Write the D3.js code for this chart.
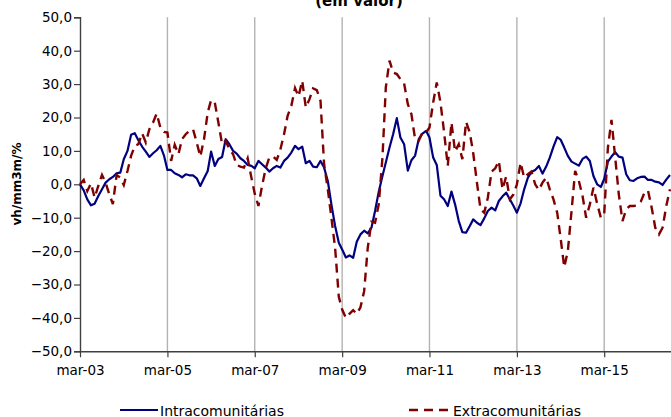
<!DOCTYPE html>
<html>
<head>
<meta charset="utf-8">
<script src="https://cdn.jsdelivr.net/npm/d3@7"></script>
<style>
  html, body { margin: 0; padding: 0; background: #fff; }
  svg { display: block; }
  text { font-family: "DejaVu Sans", Verdana, sans-serif; fill: #000; }
</style>
</head>
<body>
<svg id="chart" width="671" height="417"></svg>
<script>
// ---- data ----
const startYear = 2003, startMonth = 2; // March 2003, monthly series
const intra = [
  0.0,-1.8,-4.5,-6.3,-5.8,-3.5,-1.5,0.5,1.5,2.2,3.3,3.5,7.5,10.0,14.8,15.3,13.2,11.3,9.8,8.2,
  9.3,10.2,11.5,8.5,4.3,4.3,3.3,2.8,2.1,3.0,2.7,2.7,1.8,-0.5,1.8,4.0,9.8,5.5,7.6,8.2,
  13.5,12.0,10.0,9.2,7.8,7.0,5.8,5.5,4.8,7.0,6.0,5.0,3.8,4.8,5.5,5.0,7.0,8.0,9.5,11.5,
  10.5,11.3,6.3,7.0,5.3,5.1,7.0,5.0,1.0,-6.0,-12.5,-17.5,-19.5,-21.9,-21.3,-22.0,-17.2,-15.0,-13.9,-14.7,
  -13.0,-8.0,-2.2,2.5,6.5,11.0,15.0,19.8,14.0,12.0,4.1,7.2,8.6,13.5,15.2,16.0,14.0,8.0,5.8,-3.4,
  -4.5,-6.5,-2.2,-6.0,-11.0,-14.3,-14.5,-12.5,-10.5,-11.5,-12.2,-10.2,-8.0,-7.0,-7.8,-5.0,-3.6,-2.5,-4.5,-6.5,
  -8.5,-5.7,-1.5,2.0,3.7,4.3,5.5,3.2,5.3,8.0,11.3,14.1,13.4,11.0,8.5,6.8,6.2,5.6,7.6,8.3,
  7.0,2.5,0.0,-0.8,1.6,6.8,8.3,9.6,8.3,8.0,3.0,1.2,1.0,1.8,2.2,2.3,1.3,1.3,0.8,0.6,
  -0.2,1.4,2.8
];
const extra = [
  0.0,1.3,-2.0,0.3,-4.0,-0.5,2.8,0.5,-3.0,-5.9,2.8,2.0,-0.2,4.0,8.5,11.5,12.0,15.3,12.5,16.5,
  18.5,21.2,17.0,15.7,15.5,7.0,11.8,9.0,13.5,15.0,16.0,16.5,12.5,8.3,13.5,21.5,25.2,24.5,18.5,12.0,
  13.0,10.5,9.0,5.8,5.3,5.0,7.8,2.0,-2.8,-6.5,-0.5,4.8,8.0,8.3,7.3,10.3,15.0,20.5,23.5,28.8,
  26.3,31.0,23.0,25.5,28.7,28.2,25.0,6.0,-1.5,-10.0,-19.0,-33.7,-37.5,-40.0,-38.8,-37.7,-38.8,-36.8,-32.0,-19.0,
  -11.2,-11.5,-6.0,8.0,29.0,37.0,33.5,33.0,31.5,30.2,24.0,21.0,13.5,13.0,15.5,15.5,17.0,24.5,30.5,24.5,
  15.7,5.5,18.5,9.8,12.0,7.5,18.7,15.5,9.3,0.5,-7.5,-8.5,-4.0,3.8,4.8,7.0,-1.5,2.3,-4.5,-3.0,
  0.0,6.5,2.0,3.0,3.8,0.0,-1.7,0.5,2.0,-1.5,-4.5,-8.5,-16.0,-24.8,-20.0,-8.0,4.0,1.0,-3.5,-10.0,
  -6.0,-1.0,-5.8,-10.0,-9.0,11.0,19.3,8.0,-3.0,-11.0,-7.5,-6.5,-6.5,-6.3,-5.2,-2.5,-1.8,-7.0,-13.0,-15.0,
  -13.0,-6.5,-1.5
];
const seriesNames = ["Intracomunitárias", "Extracomunitárias"];
const xTickLabels = ["mar-03","mar-05","mar-07","mar-09","mar-11","mar-13","mar-15"];
const yTickValues = [-50,-40,-30,-20,-10,0,10,20,30,40,50];
const titleText = "(em valor)";
const yAxisTitle = "vh/mm3m/%";

// ---- layout ----
const svg = d3.select("#chart");
const padL = 80, padR = 671, padT = 17.3, padB = 351.3;
const dateOf = i => new Date(startYear, startMonth + i, 1);
const x = d3.scaleTime()
  .domain([new Date(2003, 2, 1), new Date(2015, 2, 1)])
  .range([padL, 604.2]);
const y = d3.scaleLinear().domain([-50, 50]).range([padB, padT]);

const tickDates = xTickLabels.map((d, k) => new Date(2003 + 2 * k, 2, 1));

// vertical gridlines
svg.append("g").selectAll("line").data(tickDates.slice(1)).join("line")
  .attr("x1", d => x(d)).attr("x2", d => x(d))
  .attr("y1", padT).attr("y2", padB)
  .attr("stroke", "#b3b3b3").attr("stroke-width", 1.4);

// y axis
const fmt = d => d3.format(".1f")(d).replace(".", ",");
const yAxis = svg.append("g").attr("transform", `translate(${padL},0)`)
  .call(d3.axisLeft(y).tickValues(yTickValues).tickSize(6).tickPadding(2).tickFormat(fmt));
yAxis.select(".domain").attr("stroke", "#404040").attr("stroke-width", 1.4);
yAxis.selectAll(".tick line").attr("stroke", "#404040").attr("stroke-width", 1.2);
yAxis.selectAll(".tick text").attr("font-size", 13.5).attr("font-family", "DejaVu Sans").attr("fill", "#000");

// x axis
const xAxis = svg.append("g").attr("transform", `translate(0,${padB})`)
  .call(d3.axisBottom(x).tickValues(tickDates).tickSize(6).tickPadding(8)
    .tickFormat((d, k) => xTickLabels[k]).tickSizeOuter(0));
xAxis.select(".domain").attr("stroke", "#404040").attr("stroke-width", 1.4)
  .attr("d", `M${padL},0.5H${padR}`);
xAxis.selectAll(".tick line").attr("stroke", "#404040").attr("stroke-width", 1.2);
xAxis.selectAll(".tick text").attr("font-size", 13.5).attr("font-family", "DejaVu Sans").attr("fill", "#000");

// lines
const line = d3.line().x((d, i) => x(dateOf(i))).y(d => y(d));
svg.append("path").datum(intra).attr("d", line)
  .attr("fill", "none").attr("stroke", "#000080").attr("stroke-width", 2.2)
  .attr("stroke-linejoin", "round");
svg.append("path").datum(extra).attr("d", line)
  .attr("fill", "none").attr("stroke", "#800000").attr("stroke-width", 2.4)
  .attr("stroke-dasharray", "9,6");

// title (cut at top)
svg.append("text").attr("x", 359).attr("y", 6).attr("text-anchor", "middle")
  .attr("font-size", 15).attr("font-weight", "bold").text(titleText);

// y axis title
svg.append("text").attr("transform", "translate(21,184) rotate(-90)")
  .attr("text-anchor", "middle").attr("font-size", 12).attr("font-weight", "bold")
  .text(yAxisTitle);

// legend
const leg = svg.append("g");
leg.append("line").attr("x1", 120).attr("x2", 158).attr("y1", 410).attr("y2", 410)
  .attr("stroke", "#000080").attr("stroke-width", 2.2);
leg.append("text").attr("x", 160).attr("y", 415.5).attr("font-size", 14).text(seriesNames[0]);
leg.append("line").attr("x1", 409).attr("x2", 451).attr("y1", 410).attr("y2", 410)
  .attr("stroke", "#800000").attr("stroke-width", 2.4).attr("stroke-dasharray", "9,6");
leg.append("text").attr("x", 453).attr("y", 415.5).attr("font-size", 14).text(seriesNames[1]);
</script>
</body>
</html>
